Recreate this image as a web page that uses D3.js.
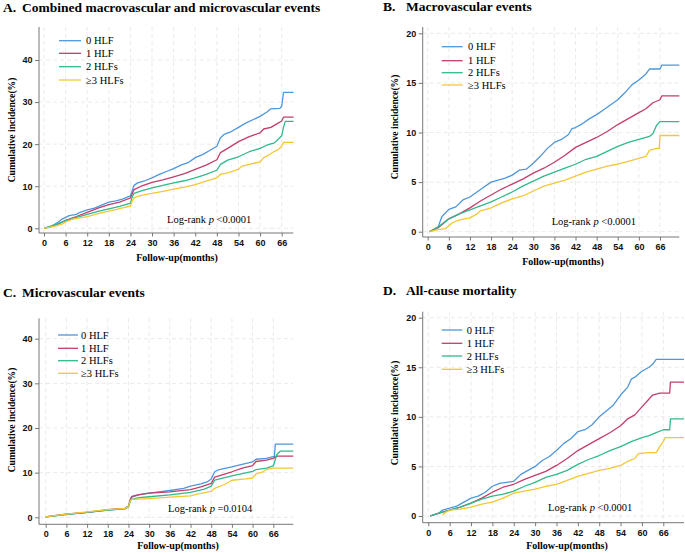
<!DOCTYPE html>
<html>
<head>
<meta charset="utf-8">
<script src="https://cdn.jsdelivr.net/npm/d3@7"></script>
<style>
  body { margin: 0; background: #fff; }
  svg { display: block; font-family: "Liberation Serif", "Times New Roman", serif; }
  .tick text { font-weight: bold; font-size: 9px; fill: #111; }
</style>
</head>
<body>
<svg id="fig" width="685" height="554"></svg>
<script>
  "use strict";

  // ---- data (months, cumulative incidence %) ----
  const groups = ["0 HLF", "1 HLF", "2 HLFs", "\u22653 HLFs"];
  const monthTicks = d3.range(0, 67, 6);

  const aBlue = [[0,0],[2,0.5],[4,1.5],[5,2.2],[6,2.6],[7,3.0],[9,3.3],[10,3.8],[12,4.4],[14,4.8],[16,5.5],[18,6.2],[20,6.5],[22,7.0],[24,7.7],[24.5,9.0],[25,10.2],[26,10.8],[28,11.3],[30,12.0],[32,12.8],[34,13.5],[36,14.2],[38,15.0],[40,15.6],[42,16.8],[44,17.5],[46,18.5],[48,19.5],[49,21.5],[50,22.3],[52,23.0],[54,24.0],[56,25.0],[58,25.8],[60,26.6],[62,27.7],[63,28.4],[65.5,28.5],[66,29.0],[66.5,32.3],[69.3,32.3]];
  const aRed = [[0,0],[3,0.6],[6,1.9],[9,2.8],[12,3.8],[15,4.8],[18,5.6],[21,6.2],[24,7.2],[24.5,8.2],[25,9.2],[27,10.0],[30,10.9],[33,11.5],[36,12.2],[39,13.0],[42,14.0],[45,15.0],[48,16.3],[49,18.0],[51,19.0],[54,20.6],[57,21.8],[60,22.7],[61,23.6],[63,24.0],[65,25.0],[66,25.5],[66.5,26.4],[69.3,26.4]];
  const aGreen = [[0,0],[3,0.8],[6,1.8],[9,2.6],[12,3.3],[15,4.0],[18,4.6],[21,5.2],[24,6.0],[24.5,7.5],[25,8.3],[27,8.9],[30,9.6],[33,10.2],[36,10.8],[39,11.3],[42,12.0],[45,12.8],[48,13.8],[49,15.2],[51,16.2],[54,17.0],[57,18.2],[60,19.0],[62,19.8],[64,20.3],[66,22.0],[66.5,24.0],[67,25.4],[69.3,25.4]];
  const aYellow = [[0,0],[3,0.5],[5,1.0],[6,1.5],[8,2.2],[12,2.8],[15,3.5],[18,4.1],[21,4.7],[24,5.3],[24.5,6.5],[25,7.3],[27,7.8],[30,8.3],[33,8.8],[36,9.3],[39,9.8],[42,10.4],[45,11.2],[48,12.0],[49,12.8],[51,13.2],[54,14.0],[55,14.8],[57,15.2],[60,15.8],[61,16.8],[62,17.2],[64,18.3],[65,18.7],[66,19.5],[66.5,20.4],[69.3,20.4]];

  const bBlue = [[0.5,0],[3,0.5],[4,1.5],[6,2.25],[8,2.5],[10,3.2],[12,3.5],[14,4.0],[16,4.5],[18,5.0],[20,5.2],[22,5.4],[24,5.7],[26,6.2],[28,6.3],[30,6.9],[32,7.6],[34,8.4],[36,9.0],[38,9.3],[40,9.8],[41,10.4],[42,10.5],[44,10.9],[46,11.4],[48,11.8],[50,12.3],[52,12.8],[54,13.3],[56,14.0],[58,14.8],[60,15.3],[62,15.9],[63,16.4],[66,16.4],[66.5,16.8],[71.5,16.8]];
  const bRed = [[0.5,0],[3,0.4],[6,1.3],[9,1.8],[12,2.4],[15,3.1],[18,3.7],[21,4.3],[24,4.8],[27,5.3],[30,5.9],[33,6.4],[36,7.0],[39,7.7],[42,8.5],[45,9.0],[48,9.5],[51,10.1],[54,10.8],[57,11.4],[60,12.0],[62,12.4],[64,13.0],[66,13.3],[66.5,13.7],[71.5,13.7]];
  const bGreen = [[0.5,0],[3,0.5],[6,1.3],[9,1.8],[12,2.2],[15,2.6],[18,3.0],[21,3.5],[24,4.0],[27,4.6],[30,5.1],[33,5.6],[36,6.0],[39,6.4],[42,6.8],[45,7.3],[48,7.6],[51,8.1],[54,8.6],[57,9.0],[60,9.3],[63,9.6],[64,9.9],[65,10.7],[66,11.1],[71.5,11.1]];
  const bYellow = [[0.5,0],[3,0.2],[5,0.3],[6,0.6],[7,0.9],[9,1.2],[12,1.4],[14,1.8],[15,2.1],[18,2.4],[21,2.9],[24,3.3],[27,3.6],[30,4.1],[33,4.6],[36,4.9],[39,5.2],[42,5.6],[45,6.0],[48,6.3],[51,6.6],[54,6.8],[57,7.1],[60,7.4],[62,7.6],[63,8.2],[65,8.4],[65.8,8.4],[66,9.7],[71.5,9.7]];

  const cBlue = [[0,0.1],[6,0.7],[12,1.1],[18,1.6],[23,2.0],[24,2.5],[24.6,4.0],[25,4.5],[27,5.0],[30,5.4],[36,6.0],[40,6.5],[42,7.0],[45,7.5],[47,8.0],[48,8.6],[49,10.2],[50,10.6],[54,11.3],[56,11.7],[60,12.4],[61,13.0],[64,13.2],[66,13.6],[66.3,13.6],[66.6,16.4],[71.8,16.4]];
  const cRed = [[0,0.1],[6,0.7],[12,1.1],[18,1.7],[23,2.0],[24,2.4],[24.6,4.2],[25,4.7],[27,5.1],[30,5.4],[36,5.7],[42,6.2],[45,6.8],[48,7.6],[49,9.0],[54,10.2],[57,11.0],[60,11.6],[61,12.5],[64,12.8],[66,13.2],[67,13.7],[71.8,13.7]];
  const cGreen = [[0,0.1],[6,0.6],[12,1.1],[18,1.6],[23,1.9],[24,2.3],[24.6,3.8],[25,4.0],[27,4.4],[30,4.6],[36,5.0],[42,5.6],[46,6.3],[48,7.0],[49,8.3],[54,9.3],[57,9.8],[60,10.3],[61,10.7],[64,11.0],[66,11.5],[67,14.0],[68,14.8],[71.8,14.8]];
  const cYellow = [[0,0.1],[6,0.7],[12,1.2],[18,1.7],[23,2.0],[24,2.4],[24.6,3.8],[25,4.0],[30,4.2],[36,4.5],[42,4.8],[44,5.2],[48,5.8],[49,6.5],[52,7.4],[54,8.3],[58,8.6],[60,8.8],[61,9.7],[63,10.2],[64,10.7],[66,11.0],[71.8,11.0]];

  const dBlue = [[0.5,0],[3,0.3],[4,0.6],[6,0.8],[8,1.0],[10,1.4],[12,1.8],[14,2.0],[16,2.4],[18,3.0],[20,3.3],[22,3.4],[24,3.5],[26,4.2],[28,4.6],[30,5.0],[32,5.6],[34,6.0],[36,6.6],[38,7.3],[40,7.8],[42,8.5],[44,8.7],[46,9.2],[48,10.0],[50,10.6],[52,11.2],[54,12.2],[56,13.0],[57,13.8],[58,14.0],[60,14.6],[62,15.0],[63,15.3],[64,15.8],[71.8,15.8]];
  const dRed = [[0.5,0],[3,0.3],[6,0.6],[9,0.9],[12,1.3],[15,1.8],[18,2.4],[21,2.9],[24,3.2],[27,3.7],[30,4.1],[33,4.5],[36,5.1],[39,5.8],[42,6.6],[45,7.2],[48,7.8],[51,8.4],[54,9.1],[56,9.8],[58,10.2],[60,11.0],[62,11.8],[63,12.2],[65,12.4],[67.8,12.4],[68,13.5],[71.8,13.5]];
  const dGreen = [[0.5,0],[3,0.3],[6,0.6],[9,0.9],[12,1.3],[15,1.7],[18,2.0],[21,2.2],[24,2.5],[27,3.0],[30,3.4],[33,3.9],[36,4.2],[39,4.6],[42,5.2],[45,5.7],[48,6.1],[51,6.6],[54,7.0],[57,7.5],[60,7.9],[62,8.1],[64,8.4],[66,8.7],[67.8,8.7],[68,9.8],[71.8,9.8]];
  const dYellow = [[4,0.1],[5,0.4],[6,0.6],[9,0.7],[12,0.9],[15,1.2],[18,1.4],[21,1.8],[24,2.3],[27,2.5],[30,2.7],[33,3.0],[36,3.2],[39,3.6],[42,4.0],[45,4.3],[48,4.6],[51,4.8],[54,5.1],[56,5.5],[58,5.8],[59,6.3],[62,6.4],[64,6.4],[65,7.0],[66,7.5],[66.5,7.9],[71.8,7.9]];

  const colors = ["#4d97dc", "#c43d6c", "#2fba8c", "#f5c733"];

  // ---- panel layout ----
  const panels = [
    { letter: "A.", title: "Combined macrovascular and microvascular events", series: [aBlue, aRed, aGreen, aYellow],
      yTicks: [0, 10, 20, 30, 40], yMax: 40, pText: "<0.0001",
      titleX: [3, 22], titleY: 12, axisX: 39, x0: 44, x66: 281.7, xEnd: 293.3, axisY: 233, y0: 228.3, yTopVal: 60, yTop: 27,
      leg: { x1: 59, x2: 81, tx: 86, rows: [40.7, 53.3, 66.7, 80] }, pPos: [167, 222.7],
      yLab: [15, 130], xLab: [177, 261] },
    { letter: "B.", title: "Macrovascular events", series: [bBlue, bRed, bGreen, bYellow],
      yTicks: [0, 5, 10, 15, 20], yMax: 20, pText: "<0.0001",
      titleX: [383, 406], titleY: 11, axisX: 422.7, x0: 427.7, x66: 660, xEnd: 679.3, axisY: 237, y0: 231.7, yTopVal: 33.3, yTop: 27,
      leg: { x1: 441.7, x2: 462.7, tx: 468, rows: [46.7, 60.7, 72.7, 85] }, pPos: [551.7, 225],
      yLab: [398, 127], xLab: [563, 265] },
    { letter: "C.", title: "Microvascular events", series: [cBlue, cRed, cGreen, cYellow],
      yTicks: [0, 10, 20, 30, 40], yMax: 40, pText: "=0.0104",
      titleX: [3, 22], titleY: 297, axisX: 39, x0: 45.7, x66: 273.3, xEnd: 293.3, axisY: 524.3, y0: 517.3, yTopVal: 338.7, yTop: 318.3,
      leg: { x1: 58, x2: 78, tx: 81, rows: [335, 348.3, 360.7, 373.3] }, pPos: [168, 511.7],
      yLab: [15, 420], xLab: [178, 549] },
    { letter: "D.", title: "All-cause mortality", series: [dBlue, dRed, dGreen, dYellow],
      yTicks: [0, 5, 10, 15, 20], yMax: 20, pText: "<0.0001",
      titleX: [383, 406], titleY: 295, axisX: 422.7, x0: 428.3, x66: 663.3, xEnd: 684, axisY: 522.7, y0: 516, yTopVal: 317.7, yTop: 311.7,
      leg: { x1: 441.7, x2: 462.3, tx: 466.7, rows: [330, 343.3, 356, 369.3] }, pPos: [548, 511],
      yLab: [398, 413], xLab: [567, 549] }
  ];

  const svg = d3.select("#fig");

  panels.forEach(function(p) {
    const x = d3.scaleLinear().domain([0, 66]).range([p.x0, p.x66]);
    const y = d3.scaleLinear().domain([0, p.yMax]).range([p.y0, p.yTopVal]);
    const g = svg.append("g");

    // grid
    g.selectAll("line.hg").data(p.yTicks).join("line")
      .attr("x1", p.axisX).attr("x2", p.xEnd)
      .attr("y1", d => y(d)).attr("y2", d => y(d))
      .attr("stroke", "#e4e4e4").attr("stroke-width", 0.8).attr("stroke-dasharray", "4,3");
    g.selectAll("line.vg").data(monthTicks).join("line")
      .attr("x1", d => x(d)).attr("x2", d => x(d))
      .attr("y1", p.yTop).attr("y2", p.axisY)
      .attr("stroke", "#e4e4e4").attr("stroke-width", 0.8).attr("stroke-dasharray", "4,3");

    // curves
    const line = d3.line().x(d => x(d[0])).y(d => y(d[1]));
    p.series.forEach(function(s, i) {
      g.append("path").datum(s)
        .attr("fill", "none").attr("stroke", colors[i]).attr("stroke-width", 1.3)
        .attr("stroke-linejoin", "round").attr("d", line);
    });

    // axes
    const xa = g.append("g").attr("transform", "translate(0," + p.axisY + ")")
      .call(d3.axisBottom(x).tickValues(monthTicks).tickSize(3.5).tickPadding(3));
    const ya = g.append("g").attr("transform", "translate(" + p.axisX + ",0)")
      .call(d3.axisLeft(y).tickValues(p.yTicks).tickSize(4).tickPadding(2.5));
    [xa, ya].forEach(a => {
      a.select(".domain").remove();
      a.selectAll(".tick line").attr("stroke", "#777");
      a.selectAll(".tick text").attr("font-family", null).attr("font-size", null);
    });
    g.append("line").attr("x1", p.axisX).attr("x2", p.axisX).attr("y1", p.yTop).attr("y2", p.axisY)
      .attr("stroke", "#777").attr("stroke-width", 1);
    g.append("line").attr("x1", p.axisX).attr("x2", p.xEnd).attr("y1", p.axisY).attr("y2", p.axisY)
      .attr("stroke", "#777").attr("stroke-width", 1);

    // labels
    g.append("text").attr("x", p.titleX[0]).attr("y", p.titleY)
      .attr("font-size", 13.5).attr("font-weight", "bold").text(p.letter);
    g.append("text").attr("x", p.titleX[1]).attr("y", p.titleY)
      .attr("font-size", 13.5).attr("font-weight", "bold").text(p.title);
    g.append("text").attr("transform", "translate(" + p.yLab[0] + "," + p.yLab[1] + ") rotate(-90)")
      .attr("text-anchor", "middle").attr("font-size", 9.6).attr("font-weight", "bold")
      .text("Cumulative incidence(%)");
    g.append("text").attr("x", p.xLab[0]).attr("y", p.xLab[1])
      .attr("text-anchor", "middle").attr("font-size", 10).attr("font-weight", "bold")
      .text("Follow-up(months)");

    const pt = g.append("text").attr("x", p.pPos[0]).attr("y", p.pPos[1]).attr("font-size", 10.5);
    pt.append("tspan").text("Log-rank ");
    pt.append("tspan").attr("font-style", "italic").text("p");
    pt.append("tspan").text(" " + p.pText);

    // legend
    groups.forEach(function(name, i) {
      const ry = p.leg.rows[i];
      g.append("line").attr("x1", p.leg.x1).attr("x2", p.leg.x2).attr("y1", ry).attr("y2", ry)
        .attr("stroke", colors[i]).attr("stroke-width", 1.3);
      g.append("text").attr("x", p.leg.tx).attr("y", ry + 3.6).attr("font-size", 10.5).text(name);
    });
  });
</script>
</body>
</html>
